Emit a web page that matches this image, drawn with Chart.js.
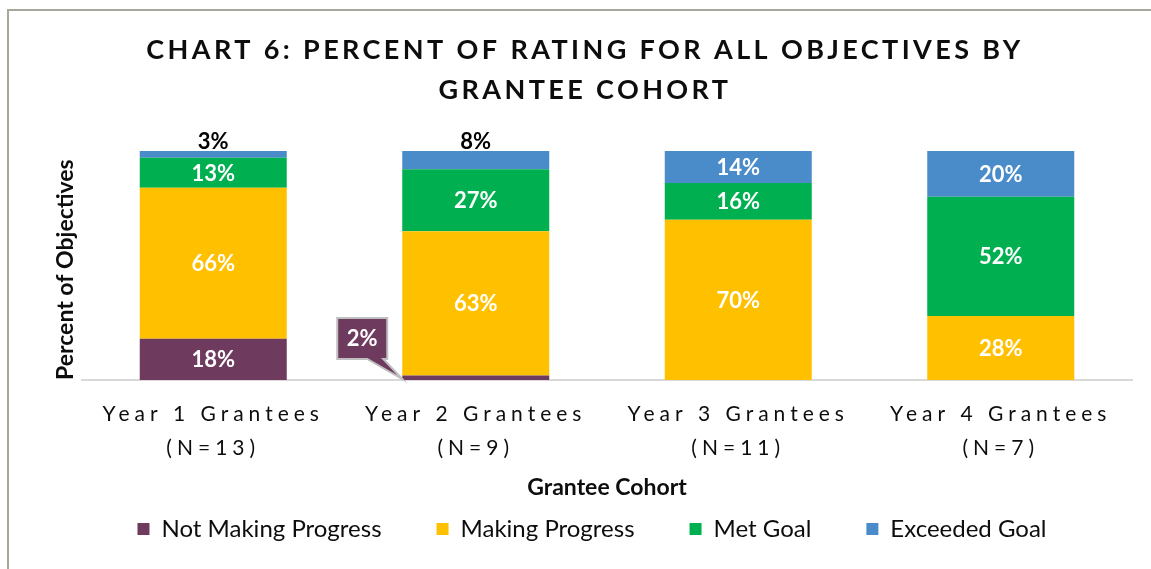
<!DOCTYPE html>
<html>
<head>
<meta charset="utf-8">
<script src="https://cdn.jsdelivr.net/npm/chart.js@4/dist/chart.umd.min.js"></script>
<style>
  html, body { margin: 0; padding: 0; background: #fff; }
  #wrap { position: relative; width: 1151px; height: 569px; }
  #frame {
    position: absolute; left: 7px; top: 9px; right: 0; bottom: 0;
    border-top: 2px solid #a7a79b; border-left: 2px solid #a7a79b;
    pointer-events: none;
  }
</style>
</head>
<body>
<div id="wrap">
  <canvas id="ratingChart"></canvas>
  <div id="frame"></div>
</div>
<script>
// categories (grantee cohorts) and their N
const cohorts = ['Year 1 Grantees', 'Year 2 Grantees', 'Year 3 Grantees', 'Year 4 Grantees'];
const cohortN = ['(N=13)', '(N=9)', '(N=11)', '(N=7)'];

// percent of rating per cohort
const notMaking = [18, 2, 0, 0];
const making    = [66, 63, 70, 28];
const metGoal   = [13, 27, 16, 52];
const exceeded  = [3, 8, 14, 20];

const seriesNames = ['Not Making Progress', 'Making Progress', 'Met Goal', 'Exceeded Goal'];
const seriesColors = ['#6e3a5e', '#ffc000', '#00b050', '#4a8bc9'];

const FONT = 'Lato, "Open Sans", sans-serif';

// wrap a draw method so its text gets letter spacing (and an optional x shift)
function withSpacing(obj, method, spacing, dx) {
    if (!obj || obj['_sp_' + method]) return;
    const orig = obj[method];
    obj[method] = function (...args) {
        const ctx = this.ctx;
        ctx.save();
        ctx.letterSpacing = spacing;
        if (dx) ctx.translate(dx, 0);
        orig.apply(this, args);
        ctx.restore();
    };
    obj['_sp_' + method] = true;
}

const spacingPlugin = {
    id: 'spacing',
    beforeDraw(chart) {
        withSpacing(chart.titleBlock, 'draw', '3.4px', -7);
        withSpacing(chart.scales.x, 'drawLabels', '5px', 0);
    }
};

// percent labels on the segments
const segLabels = {
    id: 'segLabels',
    afterDatasetsDraw(chart) {
        const ctx = chart.ctx;
        chart.data.datasets.forEach((ds, di) => {
            const meta = chart.getDatasetMeta(di);
            meta.data.forEach((bar, i) => {
                const v = ds.data[i];
                if (!v) return;
                const text = v + '%';
                ctx.save();
                ctx.font = 'bold 22px ' + FONT;
                ctx.textAlign = 'center';
                ctx.textBaseline = 'middle';
                if (v >= 10) {
                    ctx.fillStyle = '#ffffff';
                    ctx.fillText(text, bar.x, (bar.y + bar.base) / 2 + 1);
                } else if (di === 3) {
                    ctx.fillStyle = '#000000';
                    ctx.fillText(text, bar.x, bar.y - 9);
                } else {
                    // callout box to the left of the bar
                    const left = bar.x - bar.width / 2;
                    const bx = left - 65, by = bar.base - 62, bw = 50, bh = 41;
                    ctx.beginPath();
                    ctx.moveTo(bx, by);
                    ctx.lineTo(bx + bw, by);
                    ctx.lineTo(bx + bw, by + bh);
                    ctx.lineTo(bx + bw - 4, by + bh);
                    ctx.lineTo(left, bar.base - 1);
                    ctx.lineTo(bx + bw - 20, by + bh);
                    ctx.lineTo(bx, by + bh);
                    ctx.closePath();
                    ctx.fillStyle = ds.backgroundColor;
                    ctx.fill();
                    ctx.lineWidth = 2;
                    ctx.strokeStyle = '#bfbfbf';
                    ctx.stroke();
                    ctx.fillStyle = '#ffffff';
                    ctx.fillText(text, bx + bw / 2, by + bh / 2);
                }
                ctx.restore();
            });
        });
    }
};

const seriesData = [notMaking, making, metGoal, exceeded];

new Chart(document.getElementById('ratingChart'), {
    type: 'bar',
    data: {
        labels: cohorts.map((c, i) => [c, cohortN[i]]),
        datasets: seriesData.map((d, i) => ({
            label: seriesNames[i],
            data: d,
            backgroundColor: seriesColors[i],
            borderWidth: 0,
            categoryPercentage: 1,
            barPercentage: 0.56
        }))
    },
    options: {
        responsive: true,
        maintainAspectRatio: false,
        animation: false,
        layout: { padding: { left: 52, right: 19, top: 0, bottom: 18 } },
        plugins: {
            title: {
                display: true,
                text: ['CHART 6: PERCENT OF RATING FOR ALL OBJECTIVES BY', 'GRANTEE COHORT'],
                color: '#0d0d0d',
                font: { family: FONT, size: 27, weight: 'bold', lineHeight: 40 / 27 },
                padding: { top: 30, bottom: 41 }
            },
            legend: {
                position: 'bottom',
                labels: {
                    boxWidth: 12,
                    boxHeight: 12,
                    padding: 55,
                    color: '#0d0d0d',
                    font: { family: FONT, size: 24 }
                }
            },
            tooltip: { enabled: false }
        },
        scales: {
            x: {
                stacked: true,
                grid: { display: false, drawTicks: false },
                border: { display: true, color: '#d9d9d9', width: 2 },
                ticks: {
                    color: '#0d0d0d',
                    padding: 17,
                    maxRotation: 0,
                    font: { family: FONT, size: 21, lineHeight: 34 / 21 }
                },
                title: {
                    display: true,
                    text: 'Grantee Cohort',
                    color: '#0d0d0d',
                    font: { family: FONT, size: 23, weight: 'bold', lineHeight: 1.2 },
                    padding: { top: -7.8, bottom: -39.8 }
                }
            },
            y: {
                stacked: true,
                min: 0,
                max: 100,
                grid: { display: false, drawTicks: false },
                border: { display: false },
                ticks: { display: false },
                title: {
                    display: true,
                    text: 'Percent of Objectives',
                    align: 'start',
                    color: '#0d0d0d',
                    font: { family: FONT, size: 23, weight: 'bold', lineHeight: 1.2 },
                    padding: { top: 0, bottom: 2.4 }
                }
            }
        }
    },
    plugins: [spacingPlugin, segLabels]
});
</script>
</body>
</html>
